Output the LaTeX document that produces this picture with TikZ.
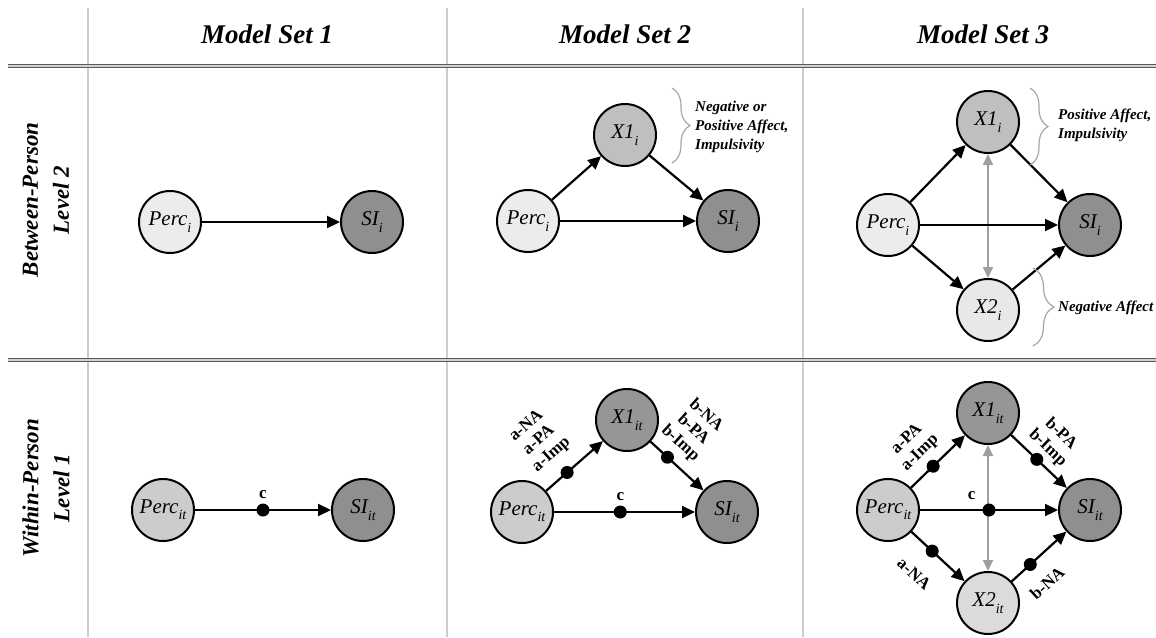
\documentclass[tikz,border=0pt]{standalone}
\usepackage{fontspec}
\setmainfont{Liberation Serif}
\usepackage{tikz}
\usetikzlibrary{shapes,arrows.meta,positioning,decorations.pathreplacing}
\definecolor{percbetween}{gray}{0.925}
\definecolor{percwithin}{gray}{0.80}
\definecolor{sifill}{gray}{0.56}
\definecolor{xonebetween}{gray}{0.75}
\definecolor{xonewithin}{gray}{0.59}
\definecolor{xtwobetween}{gray}{0.91}
\definecolor{xtwowithin}{gray}{0.86}
\definecolor{rulegray}{gray}{0.80}
\newcommand{\idx}[1]{\raisebox{-0.3em}{\fontsize{14}{14}\selectfont #1}}
\tikzstyle{latent} = [circle, draw, line width=2pt, minimum size=62pt,
    inner sep=0pt, font=\fontsize{21}{23}\selectfont\itshape]
\tikzstyle{line} = [draw, line width=2.2pt, -{Triangle[length=13pt,width=12pt]}]
\tikzstyle{corr} = [draw=gray!75, line width=1.8pt,
    {Triangle[length=11pt,width=10pt]}-{Triangle[length=11pt,width=10pt]}]
\tikzstyle{dotnode} = [circle, fill=black, minimum size=13pt, inner sep=0pt]
\tikzstyle{pathlabel} = [font=\fontsize{17}{19}\selectfont\bfseries, align=center, inner sep=0pt]
\tikzstyle{colhead} = [font=\fontsize{27}{30}\selectfont\bfseries\itshape]
\tikzstyle{rowhead} = [font=\fontsize{23}{31}\selectfont\bfseries\itshape, align=center, rotate=90]
\tikzstyle{bracket} = [draw=gray!70, line width=1.2pt, decorate, decoration={brace, amplitude=18pt}]
\tikzstyle{note} = [font=\fontsize{15}{19}\selectfont\bfseries\itshape, align=left, anchor=west, inner sep=0pt]
\tikzstyle{gridline} = [draw=rulegray, line width=1.3pt]
\tikzstyle{dblrule} = [draw=black!65, line width=1.1pt, double=gray!35, double distance=1.2pt]

\begin{document}
\begin{tikzpicture}[x=1pt, y=1pt]
\useasboundingbox (0,0) rectangle (1156,-637);

% table rules
\draw[gridline] (88,-8) -- (88,-637);
\draw[gridline] (447,-8) -- (447,-637);
\draw[gridline] (803,-8) -- (803,-637);
\draw[dblrule] (8,-66) -- (1156,-66);
\draw[dblrule] (8,-360) -- (1156,-360);

\node [colhead] (head1) at (267,-34) {Model Set 1};
\node [colhead] (head2) at (625,-34) {Model Set 2};
\node [colhead] (head3) at (983,-34) {Model Set 3};
\node [rowhead] (between) at (46,-200) {Between-Person\\Level 2};
\node [rowhead] (within) at (46,-488) {Within-Person\\Level 1};

% Model Set 1
\node [latent, fill=percbetween] (perc1b) at (170,-222) {Perc\idx{i}};
\node [latent, fill=sifill, right of=perc1b, node distance=202pt] (si1b) {SI\idx{i}};
\path [line] (perc1b) -- (si1b);

\node [latent, fill=percwithin] (perc1w) at (163,-510) {Perc\idx{it}};
\node [latent, fill=sifill, right of=perc1w, node distance=200pt] (si1w) {SI\idx{it}};
\path [line] (perc1w) -- node [dotnode, pos=0.5] (c1) {} (si1w);
\node [pathlabel, above=4pt of c1] (c1lbl) {c};

% Model Set 2
\node [latent, fill=percbetween] (perc2b) at (528,-221) {Perc\idx{i}};
\node [latent, fill=xonebetween] (x2b) at (625,-135) {X1\idx{i}};
\node [latent, fill=sifill, right of=perc2b, node distance=200pt] (si2b) {SI\idx{i}};
\path [line] (perc2b) -- (x2b);
\path [line] (x2b) -- (si2b);
\path [line] (perc2b) -- (si2b);
\coordinate (brace2top) at (672,-88);
\coordinate (brace2bot) at (672,-163);
\draw [bracket] (brace2top) -- (brace2bot);
\node [note] (note2) at (695,-127) {Negative or\\Positive Affect,\\Impulsivity};

\node [latent, fill=percwithin] (perc2w) at (522,-512) {Perc\idx{it}};
\node [latent, fill=xonewithin] (x2w) at (627,-420) {X1\idx{it}};
\node [latent, fill=sifill, right of=perc2w, node distance=205pt] (si2w) {SI\idx{it}};
\path [line] (perc2w) -- node [dotnode, pos=0.37] (a2) {}
    node [pathlabel, sloped, above=15pt, pos=0.37] (a2lbl) {a-NA\\a-PA\\a-Imp} (x2w);
\path [line] (x2w) -- node [dotnode, pos=0.32] (b2) {}
    node [pathlabel, sloped, above=10pt, pos=0.32] (b2lbl) {b-NA\\b-PA\\b-Imp} (si2w);
\path [line] (perc2w) -- node [dotnode, pos=0.47] (c2) {} (si2w);
\node [pathlabel, above=4pt of c2] (c2lbl) {c};

% Model Set 3
\node [latent, fill=percbetween] (perc3b) at (888,-225) {Perc\idx{i}};
\node [latent, fill=xonebetween] (xa3b) at (988,-122) {X1\idx{i}};
\node [latent, fill=xtwobetween] (xb3b) at (988,-310) {X2\idx{i}};
\node [latent, fill=sifill] (si3b) at (1090,-225) {SI\idx{i}};
\path [corr] (xa3b) -- (xb3b);
\path [line] (perc3b) -- (xa3b);
\path [line] (perc3b) -- (xb3b);
\path [line] (xa3b) -- (si3b);
\path [line] (xb3b) -- (si3b);
\path [line] (perc3b) -- (si3b);
\coordinate (brace3top) at (1030,-88);
\coordinate (brace3mid) at (1030,-165);
\coordinate (brace3low) at (1033,-268);
\coordinate (brace3bot) at (1033,-346);
\draw [bracket] (brace3top) -- (brace3mid);
\draw [bracket, decoration={brace, amplitude=21pt}] (brace3low) -- (brace3bot);
\node [note] (note3a) at (1058,-125) {Positive Affect,\\Impulsivity};
\node [note] (note3b) at (1058,-308) {Negative Affect};

\node [latent, fill=percwithin] (perc3w) at (888,-510) {Perc\idx{it}};
\node [latent, fill=xonewithin] (xa3w) at (988,-413) {X1\idx{it}};
\node [latent, fill=xtwowithin] (xb3w) at (988,-603) {X2\idx{it}};
\node [latent, fill=sifill] (si3w) at (1090,-510) {SI\idx{it}};
\path [corr] (xa3w) -- (xb3w);
\path [line] (perc3w) -- node [dotnode, pos=0.41] (a3) {}
    node [pathlabel, sloped, above=10pt, pos=0.41] (a3lbl) {a-PA\\a-Imp} (xa3w);
\path [line] (xa3w) -- node [dotnode, pos=0.46] (b3) {}
    node [pathlabel, sloped, above=7pt, pos=0.46] (b3lbl) {b-PA\\b-Imp} (si3w);
\path [line] (perc3w) -- node [dotnode, pos=0.39] (a3n) {}
    node [pathlabel, sloped, below=22pt, pos=0.42] (a3nlbl) {a-NA} (xb3w);
\path [line] (xb3w) -- node [dotnode, pos=0.34] (b3n) {}
    node [pathlabel, sloped, below=18pt, pos=0.34] (b3nlbl) {b-NA} (si3w);
\path [line] (perc3w) -- node [dotnode, pos=0.5] (c3) {} (si3w);
\node [pathlabel, above left=5pt and 8pt of c3] (c3lbl) {c};
\end{tikzpicture}
\end{document}
